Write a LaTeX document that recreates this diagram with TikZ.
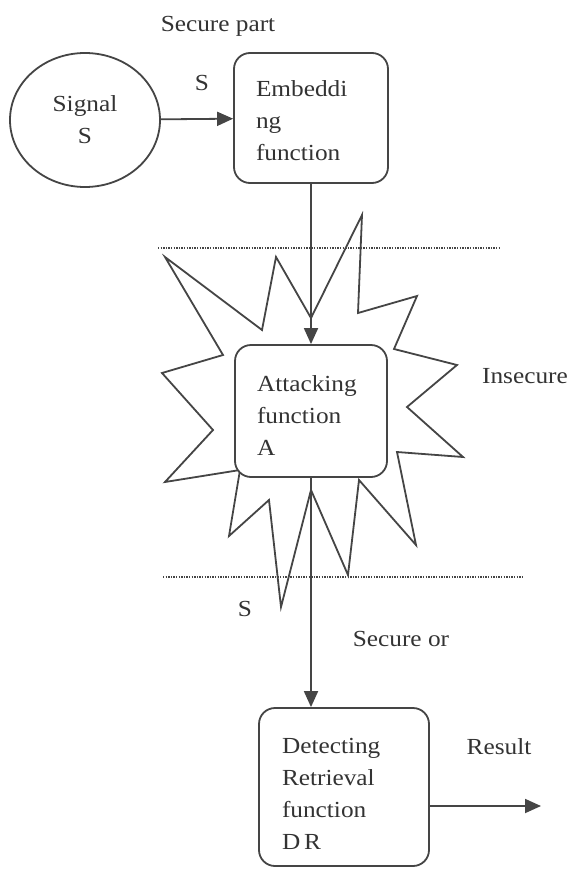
\documentclass[tikz,border=0pt]{standalone}
\usepackage{fontspec}
\setmainfont{Liberation Serif}[FakeStretch=1.1]
\usetikzlibrary{shapes.geometric,arrows.meta}
\definecolor{ink}{HTML}{454545}
\definecolor{txt}{HTML}{333333}
\begin{document}
\begin{tikzpicture}[x=1pt,y=-1pt,
  every node/.style={text=txt,font=\fontsize{23}{32}\selectfont},
  fbox/.style={draw=ink,line width=1.8pt,rounded corners=16pt,fill=white,align=left,inner ysep=0pt},
  arr/.style={draw=ink,line width=1.8pt,-{Triangle[length=16pt,width=14pt]}},
  dotline/.style={draw=ink,line width=2.2pt,dash pattern=on 1.4pt off 1.2pt},
  starline/.style={draw=ink,line width=1.8pt,line join=miter},
  lbl/.style={inner sep=0pt}]
\useasboundingbox[fill=white] (0,0) rectangle (571,870);

% separator lines
\draw[dotline] (158,248) -- (500,248);
\draw[dotline] (163,577) -- (522,577);

% star of the insecure part
\draw[starline] (165,257) -- (262,330) -- (276,257) -- (311,318) -- (362,215)
  -- (358,313) -- (417,296) -- (394,349) -- (457,365) -- (407,407)
  -- (463,457) -- (397,452) -- (416,545) -- (359,480) -- (348,575)
  -- (311,490) -- (281,607) -- (269,500) -- (229,536) -- (240,470)
  -- (165,482) -- (213,430) -- (162,373) -- (223,355) -- cycle;

% nodes
\node[ellipse,draw=ink,line width=1.8pt,minimum width=150pt,minimum height=134pt,
      align=center,inner sep=0pt] (sig) at (85,120) {Signal\\S};
\node[fbox,text width=110pt,inner xsep=22pt,minimum height=130pt] (emb) at (311,118)
  {\rule{0pt}{22pt}Embeddi\\ng\\function};
\node[fbox,text width=108pt,inner xsep=22pt,minimum height=132pt] (att) at (311,411)
  {\rule{0pt}{24pt}Attacking\\function\\A};
\node[fbox,text width=124pt,inner xsep=23pt,minimum height=158pt] (det) at (344,787)
  {\rule{0pt}{30pt}Detecting\\Retrieval\\function\\D\,R};
\coordinate (resend) at (541,806);

% labels
\node[lbl] (secpart) at (218,26) {Secure part};
\node[lbl] (s1) at (202,83) {S};
\node[lbl] (insec) at (525,376) {Insecure};
\node[lbl] (s2) at (245,609) {S};
\node[lbl] (secor) at (401,639) {Secure or};
\node[lbl] (res) at (499,747) {Result};

% connectors
\draw[arr] (sig) -- (emb);
\draw[arr] (emb.south) -- (att.north);
\draw[arr] (att.south) -- (att.south |- det.north);
\draw[arr] (det.east |- resend) -- (resend);
\end{tikzpicture}
\end{document}
